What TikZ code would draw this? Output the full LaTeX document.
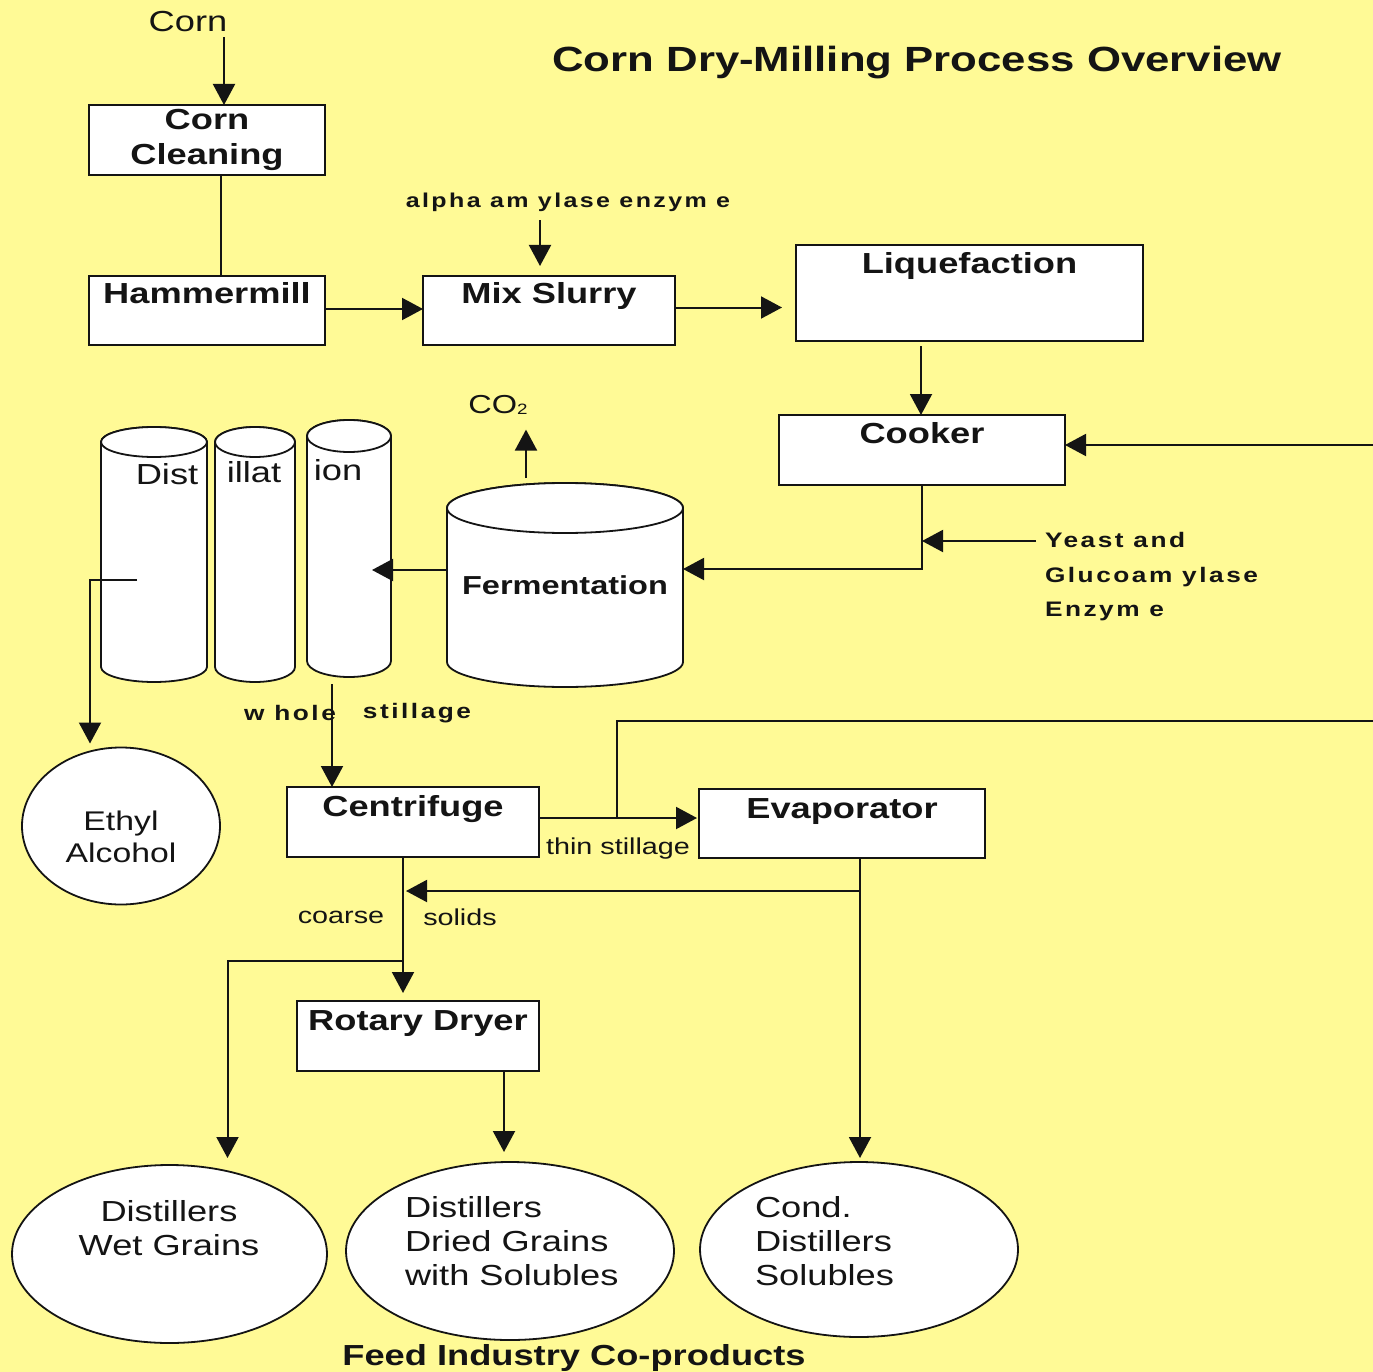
\documentclass[tikz,border=0pt]{standalone}
\usepackage{fontspec}
\setmainfont[FakeStretch=1.25]{Liberation Sans}
\newfontfamily\spfont[FakeStretch=1.25,LetterSpace=12]{Liberation Sans}
\usetikzlibrary{arrows.meta,calc,shapes.geometric}
\definecolor{bg}{RGB}{255,250,150}
\definecolor{ln}{RGB}{20,20,20}
\newcommand\fsz[2]{\fontsize{#1}{#2}\selectfont}
\newcommand\cylbody[5]{% cx, top-y, rx, ry, bottom-y
  \filldraw[cylst] (#1-#3,#2) -- (#1-#3,#5) arc[start angle=180,end angle=0,x radius=#3,y radius=#4]
    -- (#1+#3,#2) arc[start angle=0,end angle=-180,x radius=#3,y radius=#4] -- cycle;
  \draw[cylst] (#1,#2) ellipse[x radius=#3,y radius=#4];}
\begin{document}
\begin{tikzpicture}[x=1pt,y=-1pt,
  every node/.style={inner sep=0pt, outer sep=0pt, text=ln},
  box/.style={draw=ln, line width=1.8pt, fill=white, font=\fsz{29}{35}\bfseries},
  lnk/.style={draw=ln, line width=2pt},
  arr/.style={lnk, -{Triangle[length=21pt,width=22pt]}},
  blob/.style={draw=ln, line width=1.8pt, fill=white, ellipse},
  cylst/.style={draw=ln, line width=1.8pt, fill=white},
  reg/.style={font=\fsz{29}{34}},
  small/.style={font=\fsz{23}{28}},
  spb/.style={font=\spfont\bfseries\fsz{21}{34.5}},
]
\useasboundingbox (0,0) rectangle (1373,1372);
\fill[bg] (0,0) rectangle (1373,1372);

% title and inputs
\node[font=\fsz{35}{40}\bfseries] (title) at (917,63) {Corn Dry-Milling Process Overview};
\node[reg] (cornlbl) at (188,22) {Corn};
\node[font=\spfont\bfseries\fsz{20}{24}] (alpha) at (568,202) {alpha am ylase enzym e};
\node[spb, align=left, anchor=west] (yeast) at (1045,577) {Yeast and\\Glucoam ylase\\Enzym e};
\node[font=\fsz{26}{30}] (co2) at (498,405) {CO\raisebox{-1pt}{\fsz{15}{15}2}};

% boxes
\node[box, align=center, minimum width=236pt, minimum height=70pt] (cc) at (207,140) {Corn\\Cleaning};
\node[box, minimum width=236pt, text height=27pt, text depth=42pt] (ham) at (207,310.5) {Hammermill};
\node[box, minimum width=252pt, text height=27pt, text depth=42pt] (mix) at (549,310.5) {Mix Slurry};
\node[box, minimum width=347pt, text height=29pt, text depth=67pt] (liq) at (969.5,293) {Liquefaction};
\node[box, minimum width=286pt, text height=28pt, text depth=42pt] (cook) at (922,450) {Cooker};
\node[box, minimum width=252pt, text height=29pt, text depth=41pt] (cent) at (413,822) {Centrifuge};
\node[box, minimum width=286pt, text height=29pt, text depth=40pt] (evap) at (842,823.5) {Evaporator};
\node[box, minimum width=242pt, text height=29pt, text depth=41pt] (rot) at (418,1036) {Rotary Dryer};

% cylinders
\cylbody{565}{508}{118}{25}{662}
\node[font=\bfseries\fsz{26}{30}, minimum width=236pt, minimum height=204pt, text depth=0pt] (ferm) at (565,585) {Fermentation};
\cylbody{154}{442}{53}{15}{667}
\cylbody{255}{442}{40}{15}{667}
\cylbody{349}{436}{42}{16}{661}
\node[reg] (t1) at (167,474) {Dist};
\node[reg] (t2) at (254,472) {illat};
\node[reg] (t3) at (338,470) {ion};

% ellipses
\node[blob, minimum width=198pt, minimum height=157pt] (eth) at (121,826) {};
\node[font=\fsz{27}{32}, align=center] (ethtxt) at (121,837) {Ethyl\\Alcohol};
\node[blob, minimum width=315pt, minimum height=178pt] (dwg) at (169.5,1254) {};
\node[reg, align=center] (dwgtxt) at (169,1228) {Distillers\\Wet Grains};
\node[blob, minimum width=328pt, minimum height=178pt] (ddgs) at (510,1251) {};
\node[reg, align=left, anchor=west] (ddgstxt) at (405,1241) {Distillers\\Dried Grains\\with Solubles};
\node[blob, minimum width=318pt, minimum height=175pt] (cds) at (859,1249.5) {};
\node[reg, align=left, anchor=west] (cdstxt) at (755,1241) {Cond.\\Distillers\\Solubles};

% labels
\node[spb] (whole) at (290,713) {w hole};
\node[spb] (still) at (417,713) {stillage};
\node[small] (thin) at (618,849) {thin stillage};
\node[small] (coarse) at (341,917) {coarse};
\node[small] (solids) at (460,917) {solids};
\node[font=\fsz{29}{34}\bfseries] (feed) at (574,1358) {Feed Industry Co-products};

% coordinates
\coordinate (rin) at (1373,445);
\coordinate (yin) at (1036,541);
\coordinate (dcin) at (372,570);
\coordinate (dout) at (137,580);
\coordinate (wsin) at (332,684);
\coordinate (tsj) at (617,818);
\coordinate (rtop) at (1373,721);
\coordinate (ej) at (860,891);
\coordinate (cdj) at ([xshift=-10pt]cent.south);
\coordinate (wj) at (403,961);

% connectors
\draw[arr, shorten <=5pt] ([xshift=17pt]cc.north |- cornlbl.south) -- ([xshift=17pt]cc.north);
\draw[lnk] ([xshift=14pt]cc.south) -- ([xshift=14pt]ham.north);
\draw[arr] ([yshift=1.5pt]ham.east) -- ([yshift=1.5pt]mix.west);
\draw[arr, shorten <=9pt, shorten >=10pt] ([xshift=-9pt]mix.north |- alpha.south) -- ([xshift=-9pt]mix.north);
\draw[arr, shorten >=14pt] ([yshift=3pt]mix.east) -- ([yshift=3pt]mix.east -| liq.west);
\draw[arr, shorten <=5pt] ([xshift=-1pt]cook.north |- liq.south) -- ([xshift=-1pt]cook.north);
\draw[arr] (rin) -- (rin -| cook.east);
\draw[arr] (cook.south) |- ([yshift=16pt]ferm.east);
\draw[arr] (yin) -- (yin -| cook.south);
\draw[arr] ([yshift=15pt]ferm.west) -- (dcin);
\draw[arr, shorten <=5pt, shorten >=15pt] ([xshift=-39pt]ferm.north) -- ([xshift=-39pt]ferm.north |- co2.south);
\draw[arr, shorten >=4pt] (dout) -| ([xshift=-31pt]eth.north);
\draw[arr] (wsin) -- ([xshift=-81pt]cent.north);
\draw[arr, shorten >=2pt] ([yshift=4pt]cent.east) -- ([yshift=4pt]cent.east -| evap.west);
\draw[lnk] (tsj) |- (rtop);
\draw[arr, shorten >=4pt] ([xshift=18pt]evap.south) -- ([xshift=18pt]evap.south |- cds.north);
\draw[arr, shorten >=3pt] (ej) -- (ej -| cdj);
\draw[arr, shorten >=8pt] (cdj) -- (cdj |- rot.north);
\draw[arr, shorten >=7pt] (wj) -| ([xshift=58pt]dwg.north);
\draw[arr, shorten >=10pt] ([xshift=86pt]rot.south) -- ([xshift=86pt]rot.south |- ddgs.north);
\end{tikzpicture}
\end{document}
